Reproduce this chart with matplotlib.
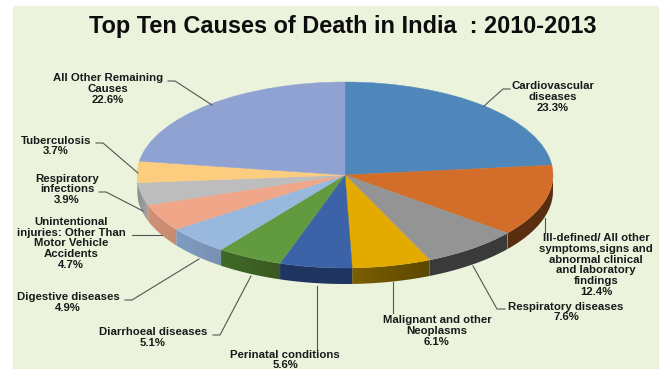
import numpy as np
import matplotlib
matplotlib.use("Agg")
import matplotlib.pyplot as plt
from matplotlib.patches import Rectangle, PathPatch
from matplotlib.path import Path
from matplotlib.colors import to_rgb

# ---- data ----
title = "Top Ten Causes of Death in India  : 2010-2013"
categories = ["Cardiovascular\ndiseases",
              "Ill-defined/ All other\nsymptoms,signs and\nabnormal clinical\nand laboratory\nfindings",
              "Respiratory diseases",
              "Malignant and other\nNeoplasms",
              "Perinatal conditions",
              "Diarrhoeal diseases",
              "Digestive diseases",
              "Unintentional\ninjuries: Other Than\nMotor Vehicle\nAccidents",
              "Respiratory\ninfections",
              "Tuberculosis",
              "All Other Remaining\nCauses"]
values = [23.3, 12.4, 7.6, 6.1, 5.6, 5.1, 4.9, 4.7, 3.9, 3.7, 22.6]

# ---- styles ----
top_colors = ["#4f87bb", "#d26d2a", "#949494", "#e3ab00", "#3c63a8", "#629a3f",
              "#98b8de", "#f0a789", "#bdbdbd", "#fdcd7f", "#8fa2d2"]
side_left = ["#3a5f85", "#5a2e10", "#3a3a3a", "#7d5e00", "#1f3560", "#3f6a28",
             "#7d9cc2", "#cf9179", "#8c8c8c", "#b09058", "#6a7ba0"]
side_right = ["#3a5f85", "#5a2e10", "#3b3b3b", "#5c4800", "#1f3560", "#3a5a22",
              "#7a90b0", "#c98a72", "#a8a8a8", "#c0a060", "#6a7ba0"]

W, H = 659, 369
CX, CY, RX, RY, DEPTH = 345, 175, 208, 93, 16

# label centres and leader polylines, in pixels
label_xy = [(553, 97), (596, 265), (566, 312), (437, 331), (285, 360), (153, 337.5),
            (68, 302.5), (71, 243.5), (67, 189.5), (56, 146), (108, 89)]
leaders = [[(484, 106), (503, 89), (510, 89)],
           [(545, 218), (545, 233)],
           [(473, 266), (497, 309), (505, 309)],
           [(393, 282), (393, 313)],
           [(317, 286), (317, 351)],
           [(251, 276), (220, 335), (213, 335)],
           [(199, 259), (132, 300), (125, 300)],
           [(162, 235), (132, 235)],
           [(143, 211), (106, 192), (99, 192)],
           [(138, 173), (103, 143), (96, 143)],
           [(212, 105), (175, 81), (168, 81)]]

plt.rcParams['font.family'] = ['Liberation Sans', 'DejaVu Sans']
fig = plt.figure(figsize=(W / 100, H / 100), dpi=100, facecolor="white")
fig.add_artist(Rectangle((13 / W, 0), 1 - 13 / W, 1 - 6 / H, transform=fig.transFigure,
                         facecolor="#ebf3dc", edgecolor="none", zorder=-5))

ax = fig.add_axes([0, 0, 1, 1])
ax.patch.set_visible(False)
wedges, _ = ax.pie(values, colors=top_colors, startangle=90, counterclock=False,
                   radius=1, wedgeprops=dict(linewidth=0.3, zorder=5))
for w, c in zip(wedges, top_colors):
    w.set_edgecolor(c)
ax.set_aspect("auto")
xlim = ((0 - CX) / RX, (W - CX) / RX)
ylim = ((CY - H) / RY, CY / RY)
d = DEPTH / RY

# extruded side of the pie, following the wedge angles
for w, cl, cr in zip(wedges, side_left, side_right):
    t = np.radians(np.linspace(w.theta1, w.theta2, 200))
    t = t[np.sin(t) <= 0]
    if len(t) < 2:
        continue
    xs, ys = np.cos(t), np.sin(t)
    verts = np.r_[np.c_[xs, ys], np.c_[xs, ys - d][::-1], [[xs[0], ys[0]]]]
    codes = [Path.MOVETO] + [Path.LINETO] * (len(verts) - 2) + [Path.CLOSEPOLY]
    grad = np.linspace(to_rgb(cl), to_rgb(cr), 64)[None, :, :]
    if xs[0] > xs[-1]:
        grad = grad[:, ::-1, :]
    patch = PathPatch(Path(verts, codes), facecolor="none", edgecolor="none")
    ax.add_patch(patch)
    im = ax.imshow(grad, extent=(xs.min(), xs.max(), -2, 2), aspect="auto", zorder=2,
                   interpolation="bilinear")
    im.set_clip_path(patch)
ax.set_xlim(*xlim)
ax.set_ylim(*ylim)
ax.axis("off")

# overlay in pixel coordinates for texts and leader lines
ov = fig.add_axes([0, 0, 1, 1])
ov.patch.set_visible(False)
ov.set_xlim(0, W)
ov.set_ylim(H, 0)
ov.axis("off")
ov.text(343, 27, title, ha="center", va="center", fontsize=16.9, fontweight="bold",
        color="#0d0d0d")
for name, val, (lx, ly), pts in zip(categories, values, label_xy, leaders):
    ov.text(lx, ly, f"{name}\n{val:.1f}%", ha="center", va="center", ma="center",
            fontsize=8.2, fontweight="bold", color="#1a1a1a", linespacing=1.12,
            clip_on=False)
    px, py = zip(*pts)
    ov.plot(px, py, color="#555555", lw=0.8, solid_joinstyle="miter")

fig.savefig("out.png", dpi=100)
